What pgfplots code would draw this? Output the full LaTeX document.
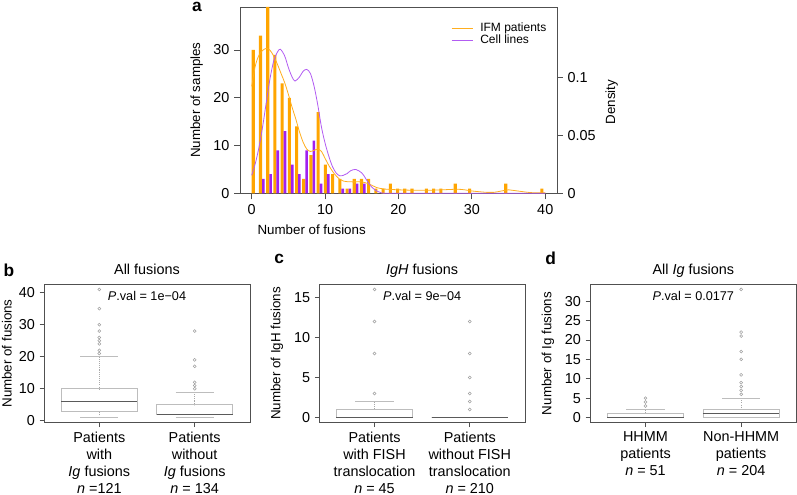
\documentclass[border=0pt]{standalone}
\usepackage{fontspec}
\setmainfont{Liberation Sans}
\usepackage{pgfplots}
\usepackage{pgfplotstable}
\pgfplotsset{compat=1.18}
\usepgfplotslibrary{statistics}
\definecolor{barorange}{HTML}{FFA500}
\definecolor{barpurple}{HTML}{A020F0}
\definecolor{lineorange}{HTML}{FFAE1F}
\definecolor{linepurple}{HTML}{B25CF2}
\definecolor{framegray}{HTML}{505050}
\definecolor{boxgray}{HTML}{BDBDBD}
\definecolor{medgray}{HTML}{5A5A5A}
\definecolor{whiskgray}{HTML}{A8A8A8}
\definecolor{outgray}{HTML}{A0A0A0}
\newcommand{\fs}{\fontsize{10.8}{13}\selectfont}

\pgfplotstableread{
k n
0 30
1 33
2 39
3 29
4 23
5 20
6 14
7 3
8 8
9 17
10 6
11 4
12 3
13 1
14 3
15 3
16 3
17 1
18 1
19 2
20 1
21 1
22 1
24 1
25 1
26 1
28 2
30 1
35 2
40 1
}\ifm
\pgfplotstableread{
k n
0 0
1 3
2 4
3 9
4 13
5 6
6 4
7 9
8 11
9 2
10 4
11 0
12 1
13 1
14 2
15 2
}\cells
\pgfplotstableread{
x d
0 0.092
0.5 0.110
1.0 0.119
1.5 0.123
2.0 0.1247
2.5 0.123
3.0 0.118
3.5 0.111
4.0 0.103
4.5 0.095
5.0 0.085
5.5 0.074
6.0 0.064
6.5 0.053
7.0 0.044
7.5 0.038
8.0 0.036
8.5 0.037
9.0 0.038
9.5 0.036
10.0 0.030
10.5 0.024
11.0 0.019
11.5 0.015
12.0 0.012
12.5 0.0105
13.0 0.010
14.0 0.0098
15.0 0.0098
16.0 0.008
17.0 0.005
18.0 0.0037
19.0 0.0033
20.0 0.0030
22.0 0.0026
24.0 0.0026
26.0 0.0030
28.0 0.0035
29.0 0.0030
30.0 0.0020
32.0 0.0008
33.0 0.0008
35.0 0.0030
36.0 0.0022
38.0 0.0006
40.0 0.0004
}\ifmdens
\pgfplotstableread{
x d
0 0.0155
0.5 0.026
1.0 0.040
1.5 0.058
2.0 0.079
2.5 0.099
3.0 0.114
3.5 0.1215
3.9 0.124
4.5 0.118
5.0 0.108
5.5 0.100
5.9 0.0966
6.5 0.100
7.0 0.105
7.5 0.1066
8.0 0.103
8.5 0.092
9.0 0.076
9.5 0.057
10.0 0.043
10.5 0.032
11.0 0.023
11.5 0.0175
12.0 0.015
12.5 0.0155
13.0 0.017
13.5 0.0195
14.2 0.0205
15.0 0.0175
15.5 0.013
16.0 0.008
16.5 0.0045
17.0 0.002
17.5 0.0008
18.5 0
25 0
40 0
}\celldens

\pgfplotsset{
  common/.style={
    scale only axis,
    anchor=south west,
    axis line style={framegray, line width=0.6pt},
    tick style={framegray, line width=0.6pt},
    tick align=outside,
    major tick length=3.3pt,
    ticklabel style={font=\fs, text=black},
    /pgf/number format/assume math mode=true,
    label style={font=\fs},
  },
  boxax/.style={
    common,
    height=103.8pt,
    xmin=0.42, xmax=2.58,
    xtick={1,2},
    xtick pos=lower, ytick pos=left,
    xticklabel style={align=center, font=\fontsize{10.8}{12.8}\selectfont},
    every axis title/.style={at={(axis description cs:0.5,1)}, anchor=base, yshift=7.3pt, font=\fs},
    boxplot/draw direction=y,
    boxplot/every box/.style={draw=boxgray, line width=0.6pt},
    boxplot/every median/.style={draw=medgray, line width=1.1pt},
    boxplot/draw/lower whisker/.code={%
      \draw[whiskgray, line width=0.5pt, dash pattern=on 0.8pt off 0.8pt]
        (boxplot cs:\pgfplotsboxplotvalue{lower whisker}) -- (boxplot cs:\pgfplotsboxplotvalue{lower quartile});
      \draw[boxgray, line width=0.6pt]
        (boxplot whisker cs:\pgfplotsboxplotvalue{lower whisker},0) -- (boxplot whisker cs:\pgfplotsboxplotvalue{lower whisker},1);
    },
    boxplot/draw/upper whisker/.code={%
      \draw[whiskgray, line width=0.5pt, dash pattern=on 0.8pt off 0.8pt]
        (boxplot cs:\pgfplotsboxplotvalue{upper whisker}) -- (boxplot cs:\pgfplotsboxplotvalue{upper quartile});
      \draw[boxgray, line width=0.6pt]
        (boxplot whisker cs:\pgfplotsboxplotvalue{upper whisker},0) -- (boxplot whisker cs:\pgfplotsboxplotvalue{upper whisker},1);
    },
  },
  bp/.style={boxgray, line width=0.6pt, mark=o, mark size=1.1pt,
    mark options={draw=outgray, line width=0.4pt, solid},
    boxplot prepared={#1, box extend=0.8, whisker extend=0.4, draw direction=y}},
}

\begin{document}
\begin{tikzpicture}
\path[use as bounding box] (0pt,0pt) rectangle (597.75pt,371.25pt);

% ---------- panel a ----------
\begin{axis}[common, at={(180pt,226.275pt)},
  width=237.75pt, height=139.725pt,
  xmin=-1.6, xmax=41.6, ymin=0, ymax=39,
  xtick={0,10,20,30,40}, ytick={0,10,20,30},
  xtick pos=lower, ytick pos=left,
  major tick length=4.5pt,
  xlabel={Number of fusions}, ylabel={Number of samples},
  every axis x label/.style={at={(axis description cs:0.226,-0.197)}, anchor=center},
  every axis y label/.style={at={(axis description cs:-0.1366,0.5)}, rotate=90, anchor=center},
]
\addplot[ybar, bar width=0.42, bar shift=0pt, fill=barorange, draw=none]
  table[x expr=0.983*\thisrowno{0}+0.21, y index=1] {\ifm};
\addplot[ybar, bar width=0.36, bar shift=0pt, fill=barpurple, draw=none]
  table[x expr=0.983*\thisrowno{0}+0.60, y index=1] {\cells};
\end{axis}
\begin{axis}[common, at={(180pt,226.275pt)},
  width=237.75pt, height=139.725pt,
  xmin=-1.6, xmax=41.6, ymin=0, ymax=0.1603,
  hide x axis, axis y line*=right,
  ytick={0,0.05,0.1}, yticklabels={0,0.05,0.1},
  major tick length=4.5pt,
  ylabel={Density},
  every axis y label/.style={at={(axis description cs:1.1726,0.49)}, rotate=90, anchor=center},
  legend style={at={(axis description cs:0.665,0.93)}, anchor=north west, draw=none, fill=none,
    font=\fontsize{9}{10}\selectfont, inner sep=0pt, row sep=-3pt, column sep=3pt, cells={anchor=west}},
]
\addplot[lineorange, line width=0.6pt, smooth, no markers,
  legend image code/.code={\draw[lineorange, line width=0.9pt] (0pt,0pt) -- (16pt,0pt);}]
  table[x index=0, y index=1] {\ifmdens};
\addlegendentry{IFM patients}
\addplot[linepurple, line width=0.6pt, smooth, no markers,
  legend image code/.code={\draw[linepurple, line width=0.9pt] (0pt,0pt) -- (16pt,0pt);}]
  table[x index=0, y index=1] {\celldens};
\addlegendentry{Cell lines}
\end{axis}
\node[anchor=base west, inner sep=0pt, font=\fontsize{13}{15}\selectfont\bfseries] at (143.8pt,362.3pt) {a};

% ---------- panel b ----------
\begin{axis}[boxax, at={(33pt,54.225pt)}, width=154.5pt,
  ymin=-0.6, ymax=42.6, ytick={0,10,20,30,40},
  xticklabels={{Patients\\with\\\textit{Ig} fusions\\\textit{n} =121},{Patients\\without\\\textit{Ig} fusions\\\textit{n} = 134}},
  title={All fusions},
  ylabel={Number of fusions},
  every axis y label/.style={at={(axis description cs:-0.18,0.5)}, rotate=90, anchor=center},
]
\addplot[bp={lower whisker=1, lower quartile=3, median=6, upper quartile=10, upper whisker=20, draw position=1}]
  table[row sep=\\, y index=0] {v\\41\\35\\30\\28\\26\\25\\24\\22\\21\\};
\addplot[bp={lower whisker=1, lower quartile=2, median=2, upper quartile=5, upper whisker=9, draw position=2}]
  table[row sep=\\, y index=0] {v\\28\\19\\17\\12\\11\\10\\};
\node[anchor=base, font=\fontsize{9.5}{11}\selectfont] at (axis description cs:0.5,0.885) {\textit{P}.val = 1e−04};
\end{axis}
\node[anchor=base west, inner sep=0pt, font=\fontsize{13}{15}\selectfont\bfseries] at (2.5pt,163.5pt) {b};

% ---------- panel c ----------
\begin{axis}[boxax, at={(239.475pt,54.225pt)}, width=154.275pt,
  ymin=-0.64, ymax=16.64, ytick={0,5,10,15},
  xticklabels={{Patients\\with FISH\\translocation\\\textit{n} = 45},{Patients\\without FISH\\translocation\\\textit{n} = 210}},
  title={\textit{IgH} fusions},
  ylabel={Number of IgH fusions},
  every axis y label/.style={at={(axis description cs:-0.2056,0.5)}, rotate=90, anchor=center},
]
\addplot[bp={lower whisker=0, lower quartile=0, median=0, upper quartile=1, upper whisker=2, draw position=1}]
  table[row sep=\\, y index=0] {v\\3\\8\\12\\16\\};
\addplot[bp={lower whisker=0, lower quartile=0, median=0, upper quartile=0, upper whisker=0, draw position=2}]
  table[row sep=\\, y index=0] {v\\1\\2\\3\\5\\8\\12\\};
\node[anchor=base, font=\fontsize{9.5}{11}\selectfont] at (axis description cs:0.5,0.885) {\textit{P}.val = 9e−04};
\end{axis}
\node[anchor=base west, inner sep=0pt, font=\fontsize{13}{15}\selectfont\bfseries] at (205.5pt,173.8pt) {c};

% ---------- panel d ----------
\begin{axis}[boxax, at={(442.5pt,54.225pt)}, width=155.0pt,
  ymin=-1.32, ymax=34.32, ytick={0,5,10,15,20,25,30},
  xticklabels={{HHMM\\patients\\\textit{n} = 51},{Non-HHMM\\patients\\\textit{n} = 204}},
  title={All \textit{Ig} fusions},
  ylabel={Number of Ig fusions},
  every axis y label/.style={at={(axis description cs:-0.203,0.5)}, rotate=90, anchor=center},
]
\addplot[bp={lower whisker=0, lower quartile=0, median=0, upper quartile=1, upper whisker=2, draw position=1}]
  table[row sep=\\, y index=0] {v\\3\\4\\5\\};
\addplot[bp={lower whisker=0, lower quartile=0, median=1, upper quartile=2, upper whisker=5, draw position=2}]
  table[row sep=\\, y index=0] {v\\6\\7\\8\\9\\11\\15\\17\\21\\22\\33\\};
\node[anchor=base, font=\fontsize{9.5}{11}\selectfont] at (axis description cs:0.5,0.885) {\textit{P}.val = 0.0177};
\end{axis}
\node[anchor=base west, inner sep=0pt, font=\fontsize{13}{15}\selectfont\bfseries] at (408.75pt,172.5pt) {d};
\end{tikzpicture}
\end{document}
